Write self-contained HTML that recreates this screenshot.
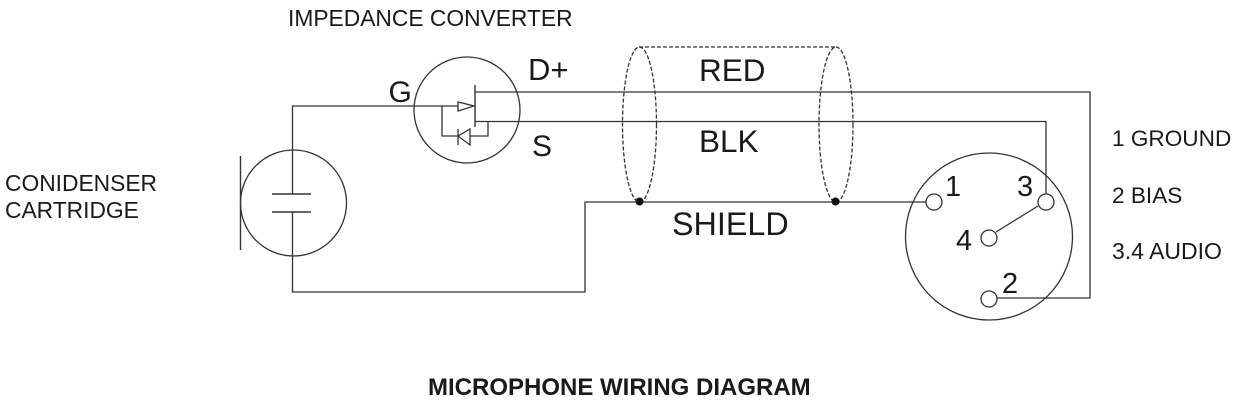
<!DOCTYPE html>
<html>
<head>
<meta charset="utf-8">
<style>
html,body{margin:0;padding:0;background:#fff;width:1235px;height:407px;overflow:hidden}
svg{display:block}
text{font-family:"Liberation Sans",sans-serif;fill:#1a1a1a}
</style>
</head>
<body>
<svg width="1235" height="407" viewBox="0 0 1235 407" xmlns="http://www.w3.org/2000/svg">
<g fill="none" stroke="#333" stroke-width="1.3">
  <!-- capacitor -->
  <circle cx="293.500" cy="203" r="53"/>
  <line x1="240.500" y1="156" x2="240.500" y2="250" stroke-width="1.4"/>
  <line x1="272" y1="194" x2="311" y2="194" stroke-width="1.4"/>
  <line x1="272" y1="212" x2="311" y2="212" stroke-width="1.4"/>
  <!-- wiring -->
  <polyline points="458,106 292.500,106 292.500,194"/>
  <polyline points="292.500,212 292.500,292 585,292 585,202 926,202"/>
  <polyline points="475,92 1090,92 1090,298 997,298"/>
  <polyline points="475,121.500 1046,121.500 1046,194"/>
  <!-- MOSFET -->
  <circle cx="467" cy="110" r="53"/>
  <line x1="475" y1="85" x2="475" y2="127" stroke-width="1.4"/>
  <polygon points="458,102 458,111 474,106"/>
  <polyline points="442,106 442,136 458,136"/>
  <polygon points="470,129 470,145 458,136"/>
  <line x1="458" y1="129" x2="458" y2="145"/>
  <polyline points="470,136 488,136 488,121.500"/>
  <!-- cable shield -->
  <ellipse cx="639.500" cy="124.500" rx="17" ry="77.500" stroke-dasharray="4 2"/>
  <ellipse cx="836" cy="124.500" rx="17" ry="77.500" stroke-dasharray="4 2"/>
  <line x1="639" y1="47" x2="836" y2="47" stroke-dasharray="4 2"/>
  <!-- XLR connector -->
  <circle cx="989" cy="236.500" r="83.500"/>
  <circle cx="934" cy="202" r="8"/>
  <circle cx="1046" cy="202" r="8"/>
  <circle cx="989" cy="238" r="8"/>
  <circle cx="989" cy="299" r="8"/>
  <line x1="1038" y1="206" x2="996" y2="232"/>
</g>
<circle cx="639.500" cy="201.500" r="4" fill="#111"/>
<circle cx="835.500" cy="201.500" r="4" fill="#111"/>

<text x="288" y="26" font-size="22.800">IMPEDANCE CONVERTER</text>
<text x="388.500" y="102" font-size="30">G</text>
<text x="528" y="80" font-size="31">D+</text>
<text x="532" y="156" font-size="30">S</text>
<text x="699" y="81" font-size="31.500">RED</text>
<text x="699" y="152" font-size="31.500">BLK</text>
<text x="672" y="235" font-size="32.300">SHIELD</text>
<text x="5" y="191" font-size="22.800">CONIDENSER</text>
<text x="5" y="218" font-size="22.800">CARTRIDGE</text>
<text x="945" y="196" font-size="29">1</text>
<text x="1017" y="196" font-size="29">3</text>
<text x="956" y="250" font-size="29">4</text>
<text x="1002" y="293" font-size="29">2</text>
<text x="1112" y="146" font-size="22.600">1 GROUND</text>
<text x="1112" y="203" font-size="22.600">2 BIAS</text>
<text x="1112" y="259" font-size="23">3.4 AUDIO</text>
<text x="428" y="395" font-size="24" font-weight="bold">MICROPHONE WIRING DIAGRAM</text>
</svg>
</body>
</html>
